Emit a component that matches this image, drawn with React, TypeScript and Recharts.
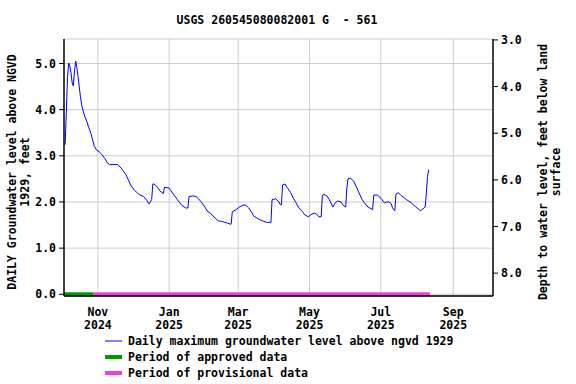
import React from 'react';
import { LineChart, Line, XAxis, YAxis, CartesianGrid } from 'recharts';

const DAY = 86400000;
const START = Date.UTC(2024, 9, 3);
const END = Date.UTC(2025, 9, 5);

// days after 2024-10-03
const days = [
  1, 2, 3, 4, 5, 6, 7, 8, 9, 10, 11, 12, 13, 14, 15, 16, 18, 20, 21, 23, 24, 25, 26, 28, 30, 32, 35, 37, 39,
  46, 49, 51, 53, 55, 57, 60, 63, 65, 68, 71, 72, 73, 75, 76, 77, 80, 82, 85, 86, 90, 93, 97, 101, 104, 106,
  107, 110, 113, 115, 118, 121, 123, 125, 129, 132, 135, 140, 142, 143, 144, 147, 150, 154, 156, 158, 161,
  162, 167, 170, 173, 176, 177, 178, 181, 184, 185, 186, 187, 189, 191, 194, 196, 199, 201, 204, 206, 209,
  211, 214, 216, 218, 220, 221, 222, 225, 227, 230, 232, 234, 237, 239, 241, 242, 243, 245, 248, 250, 252,
  255, 257, 260, 263, 264, 265, 268, 270, 272, 274, 276, 278, 280, 281, 283, 284, 286, 288, 291, 293, 296,
  298, 301, 303, 305, 307, 309, 310, 311, 312,
];
const levels = [
  3.24, 3.95, 4.7, 5.01, 4.94, 4.8, 4.58, 4.51, 4.85, 5.05, 4.91, 4.72, 4.51, 4.29, 4.12, 4.0, 3.84, 3.71, 3.62,
  3.49, 3.39, 3.3, 3.2, 3.12, 3.09, 3.04, 2.94, 2.85, 2.81,
  2.81, 2.73, 2.66, 2.59, 2.48, 2.37, 2.26, 2.19, 2.15, 2.12, 2.03, 1.98, 1.96, 2.05, 2.39, 2.39, 2.32, 2.24,
  2.18, 2.32, 2.3, 2.19, 2.05, 1.92, 1.87, 1.87,
  2.12, 2.13, 2.12, 2.07, 1.98, 1.87, 1.79, 1.76, 1.66, 1.59, 1.58, 1.54, 1.52, 1.52, 1.79, 1.83, 1.89, 1.94,
  1.92, 1.87, 1.76,
  1.7, 1.62, 1.59, 1.56, 1.56, 1.55, 2.05, 2.07, 2.0, 1.94, 1.94, 2.37, 2.39, 2.31, 2.2, 2.09, 1.96, 1.87,
  1.79, 1.72, 1.68,
  1.72, 1.76, 1.74, 1.68, 1.68, 2.13, 2.17, 2.13, 2.05, 1.89, 1.98, 2.02, 2.0, 1.92, 1.89, 2.31, 2.5, 2.52,
  2.44, 2.33, 2.22,
  2.05, 1.98, 1.89, 1.85, 1.83, 2.15, 2.15, 2.11, 2.05, 1.98, 2.0, 2.0, 1.96, 1.87, 1.81, 2.17, 2.2, 2.15,
  2.09, 2.05, 2.0,
  1.96, 1.89, 1.85, 1.81, 1.85, 1.89, 2.2, 2.55, 2.7,
];

const approvedDays = [0, 25];
const provisionalDays = [25, 313];

const monthTicks = [
  Date.UTC(2024, 10, 1),
  Date.UTC(2025, 0, 1),
  Date.UTC(2025, 2, 1),
  Date.UTC(2025, 4, 1),
  Date.UTC(2025, 6, 1),
  Date.UTC(2025, 8, 1),
];
const monthNames = ['Nov', 'Jan', 'Mar', 'May', 'Jul', 'Sep'];
const monthYears = ['2024', '2025', '2025', '2025', '2025', '2025'];

const leftTicks = [0, 1, 2, 3, 4, 5];
const rightTicks = [3, 4, 5, 6, 7, 8];

const data = days.map((d, i) => ({ t: START + d * DAY, level: levels[i] }));
const approved = approvedDays.map((d) => ({ t: START + d * DAY, v: 0 }));
const provisional = provisionalDays.map((d) => ({ t: START + d * DAY, v: 0 }));

const FONT = "'DejaVu Sans Mono', monospace";
const tickStyle = { fill: '#000', fontSize: 11.5, fontFamily: FONT, fontWeight: 'bold' as const };

const MonthTick = (props: any) => {
  const { x, y, payload } = props;
  const i = monthTicks.indexOf(payload.value);
  return (
    <g>
      <text x={x} y={y + 18} textAnchor="middle" {...tickStyle}>{monthNames[i]}</text>
      <text x={x} y={y + 31} textAnchor="middle" {...tickStyle}>{monthYears[i]}</text>
    </g>
  );
};

const textProps = { fontFamily: FONT, fontWeight: 'bold' as const, fontSize: 11.5, fill: '#000' };

export default function App() {
  return (
    <div style={{ position: 'absolute', left: 0, top: 0, width: 576, height: 384, background: '#fff' }}>
      <LineChart width={576} height={384} margin={{ top: 39, right: 43, bottom: 48, left: 24 }}>
        <CartesianGrid xAxisId="bottom" yAxisId="left" stroke="#cccccc" verticalValues={monthTicks} />
        <XAxis
          xAxisId="bottom"
          dataKey="t"
          type="number"
          domain={[START, END]}
          ticks={monthTicks}
          interval={0}
          tick={<MonthTick />}
          tickLine={false}
          tickSize={0}
          height={40}
          axisLine={{ stroke: '#000', strokeWidth: 1.5 }}
        />
        <XAxis
          xAxisId="top"
          orientation="top"
          dataKey="t"
          type="number"
          domain={[START, END]}
          tick={false}
          tickLine={false}
          height={0}
          axisLine={{ stroke: '#000', strokeWidth: 1.5 }}
        />
        <YAxis
          yAxisId="left"
          domain={[-0.037, 5.53]}
          ticks={leftTicks}
          interval={0}
          tickFormatter={(v: number) => v.toFixed(1)}
          tick={tickStyle}
          tickSize={5}
          tickMargin={3}
          tickLine={{ stroke: '#000' }}
          axisLine={{ stroke: '#000', strokeWidth: 1.5 }}
          width={40}
        />
        <YAxis
          yAxisId="right"
          orientation="right"
          domain={[2.98, 8.49]}
          reversed
          allowDataOverflow
          ticks={rightTicks}
          interval={0}
          tickFormatter={(v: number) => v.toFixed(1)}
          tick={tickStyle}
          tickSize={5}
          tickMargin={3}
          tickLine={{ stroke: '#000' }}
          axisLine={{ stroke: '#000', strokeWidth: 1.5 }}
          width={40}
        />
        <Line
          xAxisId="bottom"
          yAxisId="left"
          data={data}
          dataKey="level"
          type="linear"
          stroke="#0000ff"
          strokeWidth={1}
          dot={false}
          isAnimationActive={false}
        />
        <Line
          xAxisId="bottom"
          yAxisId="left"
          data={approved}
          dataKey="v"
          stroke="#009900"
          strokeWidth={4}
          dot={false}
          isAnimationActive={false}
        />
        <Line
          xAxisId="bottom"
          yAxisId="left"
          data={provisional}
          dataKey="v"
          stroke="#f040d8"
          strokeWidth={4}
          dot={false}
          isAnimationActive={false}
        />
      </LineChart>
      <svg
        width={576}
        height={384}
        style={{ position: 'absolute', left: 0, top: 0, pointerEvents: 'none' }}
      >
        <text x={277} y={24} textAnchor="middle" style={{ whiteSpace: 'pre' }} {...textProps}>
          {'USGS 260545080082001 G  - 561'}
        </text>
        <g transform="translate(16,172) rotate(-90)">
          <text x={0} y={0} textAnchor="middle" {...textProps}>DAILY Groundwater level above NGVD</text>
          <text x={0} y={13} textAnchor="middle" {...textProps}>1929, feet</text>
        </g>
        <g transform="translate(547,172) rotate(-90)">
          <text x={0} y={0} textAnchor="middle" {...textProps}>Depth to water level, feet below land</text>
          <text x={0} y={13} textAnchor="middle" {...textProps}>surface</text>
        </g>
        <line x1={105} x2={122} y1={341} y2={341} stroke="#0000ff" strokeWidth={1} />
        <text x={128} y={345} {...textProps}>Daily maximum groundwater level above ngvd 1929</text>
        <line x1={105} x2={122} y1={357} y2={357} stroke="#009900" strokeWidth={4} />
        <text x={128} y={361} {...textProps}>Period of approved data</text>
        <line x1={105} x2={122} y1={373} y2={373} stroke="#f040d8" strokeWidth={4} />
        <text x={128} y={377} {...textProps}>Period of provisional data</text>
      </svg>
    </div>
  );
}
